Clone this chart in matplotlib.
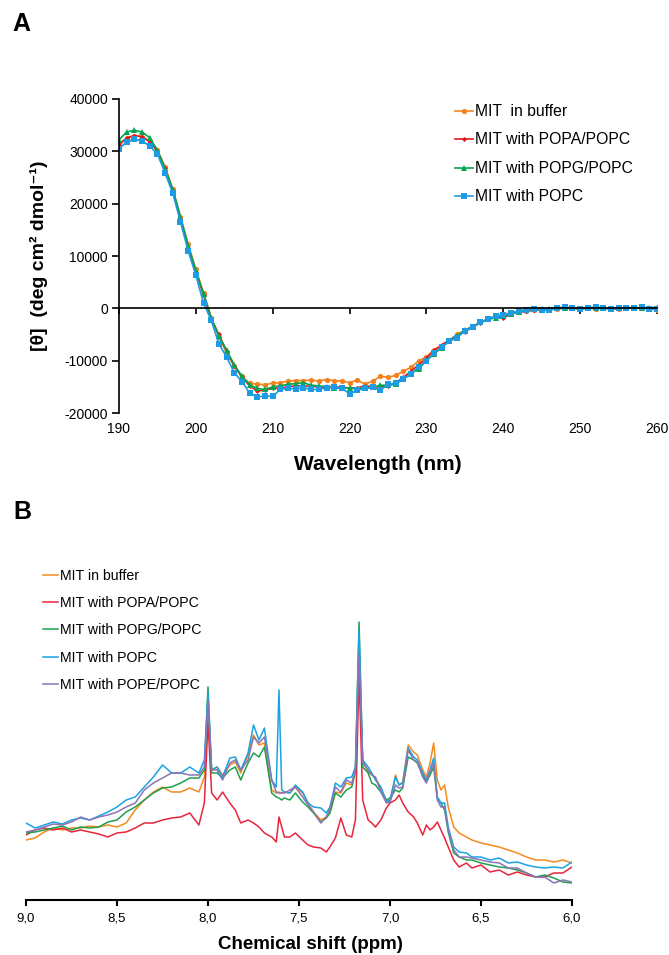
import matplotlib
matplotlib.use("Agg")
import matplotlib.pyplot as plt
import numpy as np

plt.rcParams['font.family'] = ['Liberation Sans', 'DejaVu Sans']
plt.rcParams['axes.unicode_minus'] = False

# ---- Panel A: CD spectra (mean residue ellipticity) ----
wavelength = list(range(190, 261))

cd_buffer = [31500, 32500, 33000, 32800, 32000, 30300, 27000, 22800, 17500, 12300,
             7500, 3000, -1800, -5500, -8500, -11000, -13000, -14300, -14500, -14600,
             -14300, -14200, -13900, -13800, -13800, -13700, -13900, -13600, -13800, -13900,
             -14200, -13700, -14500, -13900, -13000, -13200, -12800, -12000, -11300, -10000,
             -9300, -7900, -7200, -6200, -4900, -4200, -3400, -2700, -2000, -1500,
             -1200, -800, -700, -600, -400, -300, -100, -100, 0, 0,
             -200, 0, -100, 0, 0, -100, 0, 0, 0, 0, -300]
cd_popa = [31200, 32600, 33000, 32800, 31800, 30000, 26800, 22500, 17000, 11500,
           7000, 2500, -2000, -5000, -8200, -11000, -13200, -14800, -15800, -15600,
           -15300, -15200, -15000, -14800, -14800, -14900, -15000, -15100, -15000, -15100,
           -15200, -15200, -14800, -15000, -15000, -14800, -14200, -13200, -12000, -10800,
           -9500, -8000, -7000, -6000, -5200, -4500, -3600, -2800, -2100, -1700,
           -1900, -1000, -700, -500, -300, -200, -100, 0, 300, 0,
           100, 0, 200, 100, -100, 0, 200, 100, 0, 0, 300]
cd_popg = [32200, 33700, 34000, 33700, 32600, 30200, 26700, 22700, 17500, 12000,
           7200, 2800, -1800, -5300, -8000, -10800, -13000, -14600, -15300, -15500,
           -15000, -14800, -14500, -14400, -14200, -14700, -14800, -15000, -15300, -15200,
           -15200, -15400, -15300, -15100, -14700, -14700, -14500, -13500, -12500, -11500,
           -10000, -8700, -7500, -6200, -5200, -4200, -3500, -2700, -2100, -1800,
           -1500, -1000, -700, -400, -200, -200, -100, 0, 0, 0,
           -100, 0, 100, 0, -100, 0, 100, 0, 100, 0, -200]
cd_popc = [30500, 31800, 32300, 32000, 31000, 29500, 25800, 22000, 16500, 11000,
           6300, 1000, -2300, -6800, -9300, -12300, -14000, -16200, -16900, -16800,
           -16800, -15500, -15300, -15400, -15200, -15500, -15500, -15200, -15000, -15300,
           -16300, -15700, -15300, -15100, -15700, -14500, -14300, -13500, -12500, -11200,
           -10000, -8500, -7300, -6300, -5600, -4300, -3600, -2700, -2000, -1500,
           -1200, -900, -500, -300, -100, -300, -400, 0, 200, 0,
           -100, 0, 300, 0, -100, 0, 100, 0, 200, -200, -200]

# ---- Panel B: 1H NMR amide/aromatic region (arbitrary intensity) ----
ppm = [9.00, 8.95, 8.90, 8.85, 8.80, 8.75, 8.70, 8.65, 8.60, 8.55,
       8.50, 8.45, 8.40, 8.35, 8.30, 8.25, 8.20, 8.15, 8.10, 8.05,
       8.02, 8.00, 7.98, 7.95, 7.92, 7.88, 7.85, 7.82, 7.78, 7.75,
       7.72, 7.69, 7.65, 7.625, 7.61, 7.595, 7.58, 7.55, 7.52, 7.48,
       7.45, 7.42, 7.38, 7.35, 7.33, 7.30, 7.27, 7.24, 7.21, 7.19,
       7.17, 7.15, 7.12, 7.10, 7.08, 7.05, 7.02, 7.00, 6.97, 6.95,
       6.93, 6.90, 6.87, 6.85, 6.82, 6.80, 6.78, 6.76, 6.74, 6.72,
       6.70, 6.68, 6.65, 6.62, 6.58, 6.55, 6.50, 6.45, 6.40, 6.35,
       6.30, 6.25, 6.20, 6.15, 6.10, 6.05, 6.00]

nmr_buffer = [60, 62, 68, 72, 70, 72, 72, 74, 73, 75,
              73, 77, 90, 100, 108, 113, 108, 108, 112, 108,
              123, 190, 130, 133, 125, 135, 138, 127, 145, 165,
              155, 157, 110, 107, 108, 107, 108, 107, 113, 107,
              97, 88, 80, 83, 88, 108, 107, 117, 115, 130,
              238, 140, 128, 125, 122, 112, 100, 98, 125, 115,
              118, 155, 148, 145, 130, 123, 137, 157, 120, 110,
              115, 93, 73, 67, 63, 60, 57, 55, 53, 50,
              47, 43, 40, 40, 38, 40, 37]
nmr_popa = [65, 70, 72, 70, 72, 68, 70, 68, 66, 63,
            67, 68, 72, 77, 77, 80, 82, 83, 87, 75,
            97, 178, 107, 100, 108, 97, 90, 77, 80, 77,
            73, 67, 63, 58, 83, 73, 63, 63, 67, 60,
            55, 53, 52, 48, 53, 62, 82, 65, 63, 80,
            227, 100, 80, 77, 73, 80, 92, 97, 100, 105,
            97, 88, 83, 77, 65, 75, 70, 73, 78, 70,
            62, 53, 40, 33, 37, 32, 35, 28, 30, 25,
            28, 25, 23, 23, 27, 27, 33]
nmr_popg = [67, 68, 70, 72, 74, 70, 73, 72, 73, 78,
            80, 88, 93, 100, 107, 112, 113, 117, 122, 122,
            130, 213, 127, 127, 122, 130, 133, 120, 137, 147,
            143, 153, 107, 103, 102, 100, 102, 100, 107, 98,
            93, 87, 78, 82, 87, 107, 103, 110, 113, 128,
            278, 133, 127, 117, 115, 108, 100, 102, 110, 108,
            112, 143, 140, 137, 125, 118, 125, 133, 102, 97,
            90, 68, 47, 43, 40, 40, 37, 35, 33, 32,
            30, 27, 23, 25, 22, 18, 17]
nmr_popc = [77, 72, 75, 78, 76, 80, 82, 80, 84, 88,
            93, 100, 103, 113, 123, 135, 127, 127, 133, 127,
            140, 207, 130, 133, 123, 142, 143, 130, 147, 175,
            160, 172, 120, 113, 210, 110, 108, 107, 115, 108,
            97, 93, 92, 87, 93, 117, 113, 122, 123, 133,
            270, 140, 133, 127, 120, 113, 98, 100, 123, 115,
            117, 152, 143, 140, 127, 120, 130, 142, 103, 97,
            97, 73, 53, 48, 47, 43, 43, 40, 42, 37,
            38, 35, 33, 32, 33, 32, 38]
nmr_pope = [68, 70, 73, 76, 75, 78, 83, 80, 83, 85,
            88, 93, 97, 110, 117, 122, 127, 127, 125, 125,
            133, 200, 130, 130, 120, 137, 140, 130, 140, 163,
            157, 163, 120, 108, 107, 107, 107, 110, 113, 103,
            95, 88, 77, 83, 92, 113, 108, 120, 117, 130,
            247, 137, 130, 125, 123, 108, 97, 98, 115, 112,
            113, 150, 140, 138, 123, 117, 128, 137, 100, 93,
            93, 70, 50, 43, 43, 42, 40, 38, 37, 32,
            32, 27, 23, 23, 17, 20, 18]

W, H = 669, 955
fig = plt.figure(figsize=(W / 100, H / 100), dpi=100)

def box(x0, y0, x1, y1):
    # pixel box (top-left origin) -> figure fraction rect
    return [x0 / W, 1 - y1 / H, (x1 - x0) / W, (y1 - y0) / H]

# ---------------- Panel A ----------------
axA = fig.add_axes(box(119, 99, 657, 413))
seriesA = [
    (cd_buffer, 'MIT  in buffer', '#F5821F', 'o', 3.8),
    (cd_popa, 'MIT with POPA/POPC', '#E31A1C', 'D', 2.6),
    (cd_popg, 'MIT with POPG/POPC', '#00A651', '^', 4.2),
    (cd_popc, 'MIT with POPC', '#1E9BE2', 's', 4.2),
]
for vals, lab, col, mk, ms in seriesA:
    axA.plot(wavelength, vals, color=col, lw=1.2, marker=mk, ms=ms,
             markeredgewidth=0, label=lab)

axA.set_xlim(190, 260)
axA.set_ylim(-20000, 40000)
axA.set_yticks(range(-20000, 40001, 10000))
axA.set_xticks(range(190, 261, 10))
axA.spines['top'].set_visible(False)
axA.spines['right'].set_visible(False)
axA.spines['bottom'].set_position(('data', 0))
axA.spines['bottom'].set_linewidth(1.2)
axA.spines['left'].set_linewidth(1.2)
axA.tick_params(axis='y', direction='out', length=5, width=1.2, labelsize=10, pad=3)
axA.tick_params(axis='x', direction='out', length=4, width=1.2, labelsize=10, pad=78)
axA.set_ylabel('[θ]  (deg cm² dmol⁻¹)', fontsize=14, fontweight='bold', labelpad=12)
axA.set_xlabel('Wavelength (nm)', fontsize=15, fontweight='bold')
axA.xaxis.set_label_coords(0.481, -0.135)
axA.legend(loc='upper left', bbox_to_anchor=(455 / W, 1 - 104 / H),
           bbox_transform=fig.transFigure, frameon=False, fontsize=11.3,
           handlelength=1.15, handletextpad=0.15, labelspacing=0.86,
           borderpad=0, borderaxespad=0)

# ---------------- Panel B ----------------
axB = fig.add_axes(box(26, 560, 572, 900))
seriesB = [
    (nmr_buffer, 'MIT in buffer', '#F58A1F'),
    (nmr_popa, 'MIT with POPA/POPC', '#E8253C'),
    (nmr_popg, 'MIT with POPG/POPC', '#1FA050'),
    (nmr_popc, 'MIT with POPC', '#1AA3E4'),
    (nmr_pope, 'MIT with POPE/POPC', '#8C74B5'),
]
for vals, lab, col in seriesB:
    axB.plot(ppm, vals, color=col, lw=1.1, label=lab)

axB.set_xlim(9.0, 6.0)
axB.set_ylim(0, 340)
axB.set_xticks([9.0, 8.5, 8.0, 7.5, 7.0, 6.5, 6.0])
axB.set_xticklabels(['9,0', '8,5', '8,0', '7,5', '7,0', '6,5', '6,0'])
axB.set_yticks([])
for s in ['top', 'right', 'left']:
    axB.spines[s].set_visible(False)
axB.spines['bottom'].set_linewidth(1.5)
axB.tick_params(axis='x', direction='out', length=4, width=1.5, labelsize=9.5, pad=5)
axB.set_xlabel('Chemical shift (ppm)', fontsize=13.5, fontweight='bold')
axB.xaxis.set_label_coords((310 - 26) / 546, -0.105)
axB.legend(loc='upper left', bbox_to_anchor=(43 / W, 1 - 569 / H),
           bbox_transform=fig.transFigure, frameon=False, fontsize=10.2,
           handlelength=1.05, handletextpad=0.15, labelspacing=0.93,
           borderpad=0, borderaxespad=0)

# panel letters
fig.text(12 / W, 1 - 24 / H, 'A', fontsize=18, fontweight='bold', va='center')
fig.text(13 / W, 1 - 512 / H, 'B', fontsize=18, fontweight='bold', va='center')

fig.savefig('out.png', dpi=100)
